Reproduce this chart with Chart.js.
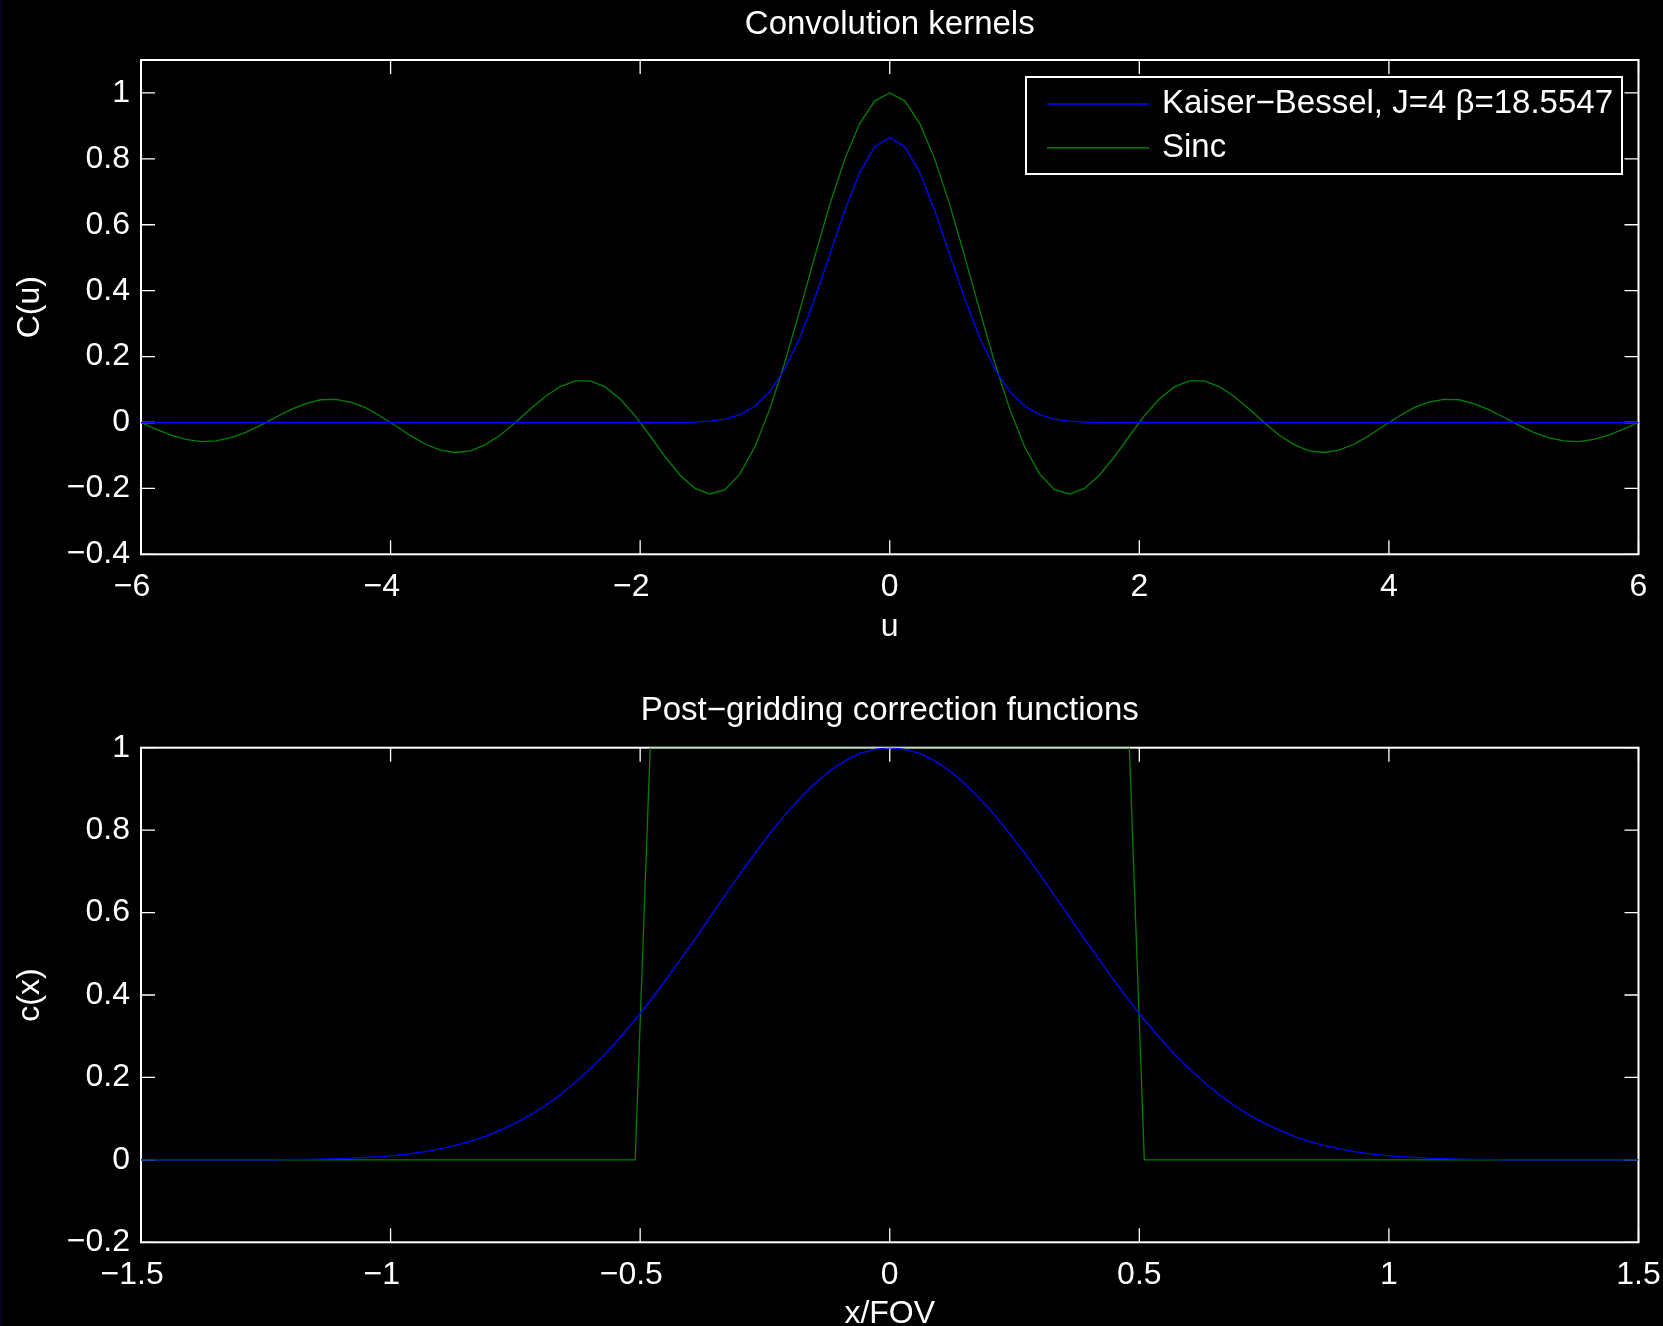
<!DOCTYPE html>
<html>
<head>
<meta charset="utf-8">
<script src="https://cdn.jsdelivr.net/npm/chart.js@4/dist/chart.umd.min.js"></script>
<style>
  html, body { margin: 0; padding: 0; background: #000; overflow: hidden; }
  #fig { position: relative; width: 1663px; height: 1326px; background: #000; }
  #fig canvas { position: absolute; left: 0; }
  #edge { position: absolute; left: 0; top: 0; width: 3px; height: 1326px; background: #04041c; }
</style>
</head>
<body>
<div id="fig">
  <canvas id="kernels" width="1663" height="663" style="top:0"></canvas>
  <canvas id="correction" width="1663" height="663" style="top:663px"></canvas>
  <div id="edge"></div>
</div>
<script>
const FONT = '"Liberation Sans", Arial, Helvetica, sans-serif';

// ---- top plot: convolution kernels, sampled every 0.12 in u ----
const uGrid = [
  -6, -5.88, -5.76, -5.64, -5.52, -5.4, -5.28, -5.16, -5.04, -4.92,
  -4.8, -4.68, -4.56, -4.44, -4.32, -4.2, -4.08, -3.96, -3.84, -3.72,
  -3.6, -3.48, -3.36, -3.24, -3.12, -3, -2.88, -2.76, -2.64, -2.52,
  -2.4, -2.28, -2.16, -2.04, -1.92, -1.8, -1.68, -1.56, -1.44, -1.32,
  -1.2, -1.08, -0.96, -0.84, -0.72, -0.6, -0.48, -0.36, -0.24, -0.12,
  0,
  0.12, 0.24, 0.36, 0.48, 0.6, 0.72, 0.84, 0.96, 1.08, 1.2,
  1.32, 1.44, 1.56, 1.68, 1.8, 1.92, 2.04, 2.16, 2.28, 2.4,
  2.52, 2.64, 2.76, 2.88, 3, 3.12, 3.24, 3.36, 3.48, 3.6,
  3.72, 3.84, 3.96, 4.08, 4.2, 4.32, 4.44, 4.56, 4.68, 4.8,
  4.92, 5.04, 5.16, 5.28, 5.4, 5.52, 5.64, 5.76, 5.88, 6
];
const kbKernel = [
  0, 0, 0, 0, 0, 0, 0, 0, 0, 0,
  0, 0, 0, 0, 0, 0, 0, 0, 0, 0,
  0, 0, 0, 0, 0, 0, 0, 0, 0, 0,
  0, 0, 0, 0, 0, 0, 0, 0.001, 0.004, 0.010,
  0.024, 0.050, 0.095, 0.163, 0.258, 0.377, 0.510, 0.644, 0.759, 0.837,
  0.865,
  0.837, 0.759, 0.644, 0.510, 0.377, 0.258, 0.163, 0.095, 0.050, 0.024,
  0.010, 0.004, 0.001, 0, 0, 0, 0, 0, 0, 0,
  0, 0, 0, 0, 0, 0, 0, 0, 0, 0,
  0, 0, 0, 0, 0, 0, 0, 0, 0, 0,
  0, 0, 0, 0, 0, 0, 0, 0, 0, 0
];
const sincKernel = [
  0, -0.020, -0.038, -0.051, -0.058, -0.056, -0.046, -0.030, -0.008, 0.016,
  0.039, 0.057, 0.069, 0.070, 0.062, 0.045, 0.019, -0.010, -0.040, -0.066,
  -0.084, -0.091, -0.086, -0.067, -0.038, 0, 0.041, 0.079, 0.109, 0.126,
  0.126, 0.108, 0.071, 0.020, -0.041, -0.104, -0.160, -0.200, -0.217, -0.204,
  -0.156, -0.073, 0.042, 0.183, 0.341, 0.505, 0.662, 0.800, 0.908, 0.976,
  1,
  0.976, 0.908, 0.800, 0.662, 0.505, 0.341, 0.183, 0.042, -0.073, -0.156,
  -0.204, -0.217, -0.200, -0.160, -0.104, -0.041, 0.020, 0.071, 0.108, 0.126,
  0.126, 0.109, 0.079, 0.041, 0, -0.038, -0.067, -0.086, -0.091, -0.084,
  -0.066, -0.040, -0.010, 0.019, 0.045, 0.062, 0.070, 0.069, 0.057, 0.039,
  0.016, -0.008, -0.030, -0.046, -0.056, -0.058, -0.051, -0.038, -0.020, 0
];
const uTicks = [-6, -4, -2, 0, 2, 4, 6];
const cTicks = [-0.4, -0.2, 0, 0.2, 0.4, 0.6, 0.8, 1];

// ---- bottom plot: post-gridding correction, sampled every 0.03 in x/FOV ----
const xGrid = [
  -1.5, -1.47, -1.44, -1.41, -1.38, -1.35, -1.32, -1.29, -1.26, -1.23,
  -1.2, -1.17, -1.14, -1.11, -1.08, -1.05, -1.02, -0.99, -0.96, -0.93,
  -0.9, -0.87, -0.84, -0.81, -0.78, -0.75, -0.72, -0.69, -0.66, -0.63,
  -0.6, -0.57, -0.54, -0.51, -0.48, -0.45, -0.42, -0.39, -0.36, -0.33,
  -0.3, -0.27, -0.24, -0.21, -0.18, -0.15, -0.12, -0.09, -0.06, -0.03,
  0,
  0.03, 0.06, 0.09, 0.12, 0.15, 0.18, 0.21, 0.24, 0.27, 0.3,
  0.33, 0.36, 0.39, 0.42, 0.45, 0.48, 0.51, 0.54, 0.57, 0.6,
  0.63, 0.66, 0.69, 0.72, 0.75, 0.78, 0.81, 0.84, 0.87, 0.9,
  0.93, 0.96, 0.99, 1.02, 1.05, 1.08, 1.11, 1.14, 1.17, 1.2,
  1.23, 1.26, 1.29, 1.32, 1.35, 1.38, 1.41, 1.44, 1.47, 1.5
];
const kbCorrection = [
  0, 0, 0, 0, 0, 0, 0, 0, 0, 0,
  0.001, 0.001, 0.002, 0.003, 0.004, 0.006, 0.008, 0.011, 0.015, 0.020,
  0.027, 0.035, 0.045, 0.057, 0.072, 0.089, 0.109, 0.132, 0.158, 0.188,
  0.221, 0.257, 0.297, 0.340, 0.386, 0.434, 0.485, 0.536, 0.589, 0.642,
  0.694, 0.744, 0.792, 0.837, 0.877, 0.913, 0.944, 0.968, 0.986, 0.996,
  1,
  0.996, 0.986, 0.968, 0.944, 0.913, 0.877, 0.837, 0.792, 0.744, 0.694,
  0.642, 0.589, 0.536, 0.485, 0.434, 0.386, 0.340, 0.297, 0.257, 0.221,
  0.188, 0.158, 0.132, 0.109, 0.089, 0.072, 0.057, 0.045, 0.035, 0.027,
  0.020, 0.015, 0.011, 0.008, 0.006, 0.004, 0.003, 0.002, 0.001, 0.001,
  0, 0, 0, 0, 0, 0, 0, 0, 0, 0
];
const sincCorrection = [
  0, 0, 0, 0, 0, 0, 0, 0, 0, 0,
  0, 0, 0, 0, 0, 0, 0, 0, 0, 0,
  0, 0, 0, 0, 0, 0, 0, 0, 0, 0,
  0, 0, 0, 0, 1, 1, 1, 1, 1, 1,
  1, 1, 1, 1, 1, 1, 1, 1, 1, 1,
  1,
  1, 1, 1, 1, 1, 1, 1, 1, 1, 1,
  1, 1, 1, 1, 1, 1, 0, 0, 0, 0,
  0, 0, 0, 0, 0, 0, 0, 0, 0, 0,
  0, 0, 0, 0, 0, 0, 0, 0, 0, 0,
  0, 0, 0, 0, 0, 0, 0, 0, 0, 0
];
const xTicks = [-1.5, -1, -0.5, 0, 0.5, 1, 1.5];
const corrTicks = [-0.2, 0, 0.2, 0.4, 0.6, 0.8, 1];

const seriesNames = ['Kaiser\u2212Bessel, J=4 \u03b2=18.5547', 'Sinc'];
const seriesColors = ['#0000ff', '#008000'];

// matlab prints a real minus sign; negative x labels sit a bit left of their tick
const minus = v => String(+v.toFixed(2)).replace('-', '\u2212');
const xLabel = v => (v < 0 ? minus(v) + '  ' : minus(v));

// box around the axes with inward ticks on all four sides
const boxAxes = {
  id: 'boxAxes',
  beforeDatasetsDraw(chart) {
    const { ctx, chartArea: a, scales: { x, y } } = chart;
    const len = 14;
    ctx.save();
    ctx.strokeStyle = '#fff';
    ctx.lineWidth = 1.3;
    ctx.beginPath();
    x.ticks.forEach(t => {
      const p = x.getPixelForValue(t.value);
      ctx.moveTo(p, a.bottom); ctx.lineTo(p, a.bottom - len);
      ctx.moveTo(p, a.top); ctx.lineTo(p, a.top + len);
    });
    y.ticks.forEach(t => {
      const p = y.getPixelForValue(t.value);
      ctx.moveTo(a.left, p); ctx.lineTo(a.left + len, p);
      ctx.moveTo(a.right, p); ctx.lineTo(a.right - len, p);
    });
    ctx.stroke();
    ctx.lineWidth = 2;
    ctx.strokeRect(a.left, a.top, a.right - a.left, a.bottom - a.top);
    ctx.restore();
  }
};

// matlab style legend box in the upper right of the axes
const boxLegend = {
  id: 'boxLegend',
  afterDatasetsDraw(chart, args, opts) {
    if (!opts.display) return;
    const { ctx } = chart;
    const { left, top, width, height } = opts.box;
    ctx.save();
    ctx.fillStyle = '#000';
    ctx.fillRect(left, top, width, height);
    ctx.strokeStyle = '#fff';
    ctx.lineWidth = 2;
    ctx.strokeRect(left, top, width, height);
    ctx.font = '33px ' + FONT;
    ctx.textBaseline = 'middle';
    ctx.textAlign = 'left';
    chart.data.datasets.forEach((ds, i) => {
      const yy = top + opts.rows[i];
      ctx.strokeStyle = ds.borderColor;
      ctx.lineWidth = 1.5;
      ctx.beginPath();
      ctx.moveTo(left + 21, yy);
      ctx.lineTo(left + 123, yy);
      ctx.stroke();
      ctx.fillStyle = '#fff';
      ctx.fillText(ds.label, left + 136, yy);
    });
    ctx.restore();
  }
};

function makeChart(id, c) {
  return new Chart(document.getElementById(id), {
    type: 'line',
    data: {
      datasets: c.values.map((vals, i) => ({
        label: seriesNames[i],
        data: c.xs.map((x, j) => ({ x: x, y: vals[j] })),
        borderColor: seriesColors[i],
        borderWidth: 1.3,
        pointRadius: 0,
        fill: false,
        tension: 0
      }))
    },
    options: {
      responsive: false,
      animation: false,
      devicePixelRatio: 1,
      layout: { padding: { left: 0, right: 24.5, top: 0, bottom: 0 } },
      plugins: {
        legend: { display: false },
        tooltip: { enabled: false },
        title: { display: false },
        boxLegend: c.legend
      },
      scales: {
        // empty top axis, only there so the plot title centres over the axes box
        top: {
          type: 'linear',
          position: 'top',
          min: c.xRange[0],
          max: c.xRange[1],
          afterFit: s => { s.height = c.titleHeight; s.paddingLeft = 0; s.paddingRight = 0; },
          grid: { display: false, drawTicks: false },
          border: { display: false },
          ticks: { display: false },
          title: {
            display: true, text: c.title, color: '#fff',
            font: { family: FONT, size: 33, lineHeight: 1.2 },
            padding: { top: c.titlePadTop, bottom: 0 }
          }
        },
        x: {
          type: 'linear',
          position: 'bottom',
          min: c.xRange[0],
          max: c.xRange[1],
          afterBuildTicks: s => { s.ticks = c.xTicks.map(v => ({ value: v })); },
          afterFit: s => { s.height = c.xAxisHeight; s.paddingLeft = 0; s.paddingRight = 0; },
          grid: { display: false, drawTicks: false },
          border: { display: false },
          ticks: {
            color: '#fff', font: { family: FONT, size: 32 }, padding: 13.5,
            autoSkip: false, maxRotation: 0, callback: v => xLabel(v)
          },
          title: {
            display: true, text: c.xTitle, color: '#fff',
            font: { family: FONT, size: 32, lineHeight: 1 },
            padding: { top: 0, bottom: c.xTitlePad }
          }
        },
        y: {
          min: c.yRange[0],
          max: c.yRange[1],
          afterBuildTicks: s => { s.ticks = c.yTicks.map(v => ({ value: v })); },
          afterFit: s => { s.width = 141; s.paddingTop = 0; s.paddingBottom = 0; },
          grid: { display: false, drawTicks: false },
          border: { display: false },
          ticks: {
            color: '#fff', font: { family: FONT, size: 32 }, padding: 11,
            autoSkip: false, callback: v => minus(v)
          },
          title: {
            display: true, text: c.yTitle, color: '#fff',
            font: { family: FONT, size: 32, lineHeight: 1 },
            padding: { top: 13.7, bottom: 0 }
          }
        }
      }
    },
    plugins: [boxAxes, boxLegend]
  });
}

makeChart('kernels', {
  xs: uGrid,
  values: [kbKernel, sincKernel],
  title: 'Convolution kernels',
  titleHeight: 60, titlePadTop: 4.9,
  xRange: [-6, 6], yRange: [-0.4, 1.1],
  xTicks: uTicks, yTicks: cTicks,
  xAxisHeight: 108.7,
  xTitle: 'u', xTitlePad: 19.8,
  yTitle: 'C(u)',
  legend: { display: true, box: { left: 1026, top: 77, width: 596, height: 97 }, rows: [27, 70.7] }
});

makeChart('correction', {
  xs: xGrid,
  values: [kbCorrection, sincCorrection],
  title: 'Post\u2212gridding correction functions',
  titleHeight: 84.7, titlePadTop: 27.7,
  xRange: [-1.5, 1.5], yRange: [-0.2, 1],
  xTicks: xTicks, yTicks: corrTicks,
  xAxisHeight: 83.7,
  xTitle: 'x/FOV', xTitlePad: -4,
  yTitle: 'c(x)',
  legend: { display: false }
});
</script>
</body>
</html>
